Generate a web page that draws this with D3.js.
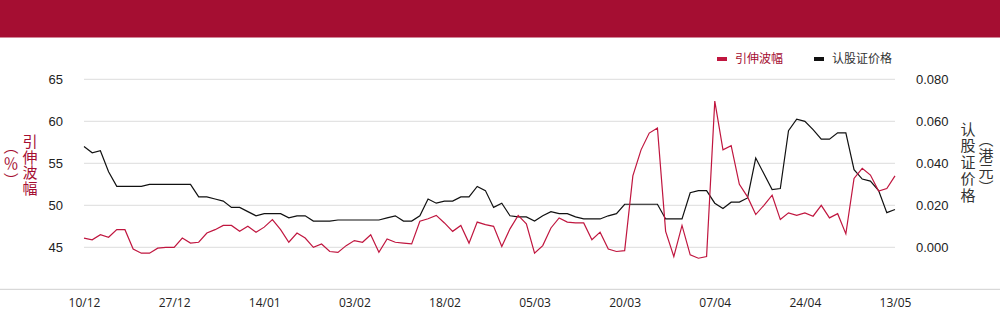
<!DOCTYPE html>
<html>
<head>
<meta charset="utf-8">
<script src="https://cdn.jsdelivr.net/npm/d3@7"></script>
<style>
  body { margin: 0; background: #fff; }
  svg { display: block; }
</style>
</head>
<body>
<svg id="chart" width="1000" height="324"></svg>
<script>
// x categories: one per trading day, only some labelled
const tickLabels = ["10/12", "27/12", "14/01", "03/02", "18/02", "05/03", "20/03", "07/04", "24/04", "13/05"]
const tickStep = 11

// 引伸波幅 (%)
const volatility = [
  46.1, 45.9, 46.5, 46.2, 47.1, 47.1, 44.8, 44.3, 44.3, 44.9,
  45.0, 45.0, 46.1, 45.5, 45.6, 46.7, 47.1, 47.6, 47.6, 46.9,
  47.5, 46.8, 47.4, 48.3, 47.1, 45.6, 46.7, 46.1, 45.0, 45.4,
  44.5, 44.4, 45.2, 45.8, 45.6, 46.5, 44.4, 46.0, 45.6, 45.5,
  45.4, 48.1, 48.4, 48.8, 47.9, 46.9, 47.6, 45.5, 48.0, 47.7,
  47.5, 45.1, 47.2, 48.8, 47.8, 44.3, 45.2, 47.3, 48.5, 48.0,
  47.9, 47.9, 45.9, 46.8, 44.8, 44.5, 44.6, 53.5, 56.6, 58.6,
  59.2, 46.9, 43.9, 47.6, 44.1, 43.7, 43.9, 62.4, 56.6, 57.1,
  52.5, 51.0, 48.9, 50.0, 51.2, 48.3, 49.1, 48.8, 49.1, 48.7,
  50.0, 48.5, 49.0, 46.6, 53.2, 54.4, 53.6, 51.7, 52.0, 53.5
]

// 认股证价格 (港元)
const warrantPrice = [
  0.048, 0.045, 0.046, 0.036, 0.029, 0.029, 0.029, 0.029, 0.030, 0.030,
  0.030, 0.030, 0.030, 0.030, 0.024, 0.024, 0.023, 0.022, 0.019, 0.019,
  0.017, 0.015, 0.016, 0.016, 0.016, 0.014, 0.015, 0.015, 0.0125, 0.0125,
  0.0125, 0.013, 0.013, 0.013, 0.013, 0.013, 0.013, 0.014, 0.015, 0.0125,
  0.0125, 0.015, 0.023, 0.021, 0.022, 0.022, 0.024, 0.024, 0.029, 0.027,
  0.019, 0.021, 0.015, 0.0145, 0.0145, 0.0125, 0.015, 0.017, 0.016, 0.016,
  0.0145, 0.0135, 0.0135, 0.0135, 0.015, 0.016, 0.0205, 0.0205, 0.0205, 0.0205,
  0.0205, 0.0135, 0.0135, 0.0135, 0.026, 0.027, 0.027, 0.021, 0.0185, 0.0215,
  0.0215, 0.0235, 0.0425, 0.035, 0.0275, 0.028, 0.0555, 0.061, 0.060, 0.056,
  0.0515, 0.0515, 0.0545, 0.0545, 0.037, 0.0325, 0.0315, 0.027, 0.0165, 0.018
]

const leftTicks = [45, 50, 55, 60, 65]
const rightTicks = [0, 0.02, 0.04, 0.06, 0.08]

const red = "#a50e32"
const lineRed = "#c0163f"

const svg = d3.select("#chart")

// header band
svg.append("rect")
  .attr("x", 0).attr("y", 0)
  .attr("width", 1000).attr("height", 37.5)
  .attr("fill", red)

const idx = d3.range(volatility.length)

const x = d3.scalePoint()
  .domain(idx)
  .range([84, 895])

const yL = d3.scaleLinear()
  .domain([40, 65])
  .range([289.3, 79.3])

const yR = d3.scaleLinear()
  .domain([-0.02, 0.08])
  .range([289.3, 79.3])

// grid lines
svg.append("g")
  .selectAll("line")
  .data(leftTicks)
  .join("line")
  .attr("x1", 84).attr("x2", 895)
  .attr("y1", d => yL(d)).attr("y2", d => yL(d))
  .attr("stroke", "#dcdcdc")
  .attr("stroke-width", 1)

// bottom base line, full width
svg.append("line")
  .attr("x1", 0).attr("x2", 1000)
  .attr("y1", yL(40)).attr("y2", yL(40))
  .attr("stroke", "#cfcfcf")
  .attr("stroke-width", 1)

// left axis labels
const gl = svg.append("g")
  .attr("transform", "translate(70,0)")
  .call(d3.axisLeft(yL).tickValues(leftTicks).tickSize(0).tickPadding(7))
gl.select(".domain").remove()
gl.selectAll("text")
  .attr("font-family", "Liberation Sans, Arial, sans-serif")
  .attr("font-size", 13)
  .attr("fill", "#222")

// right axis labels
const gr = svg.append("g")
  .attr("transform", "translate(909,0)")
  .call(d3.axisRight(yR).tickValues(rightTicks).tickSize(0).tickPadding(7).tickFormat(d3.format(".3f")))
gr.select(".domain").remove()
gr.selectAll("text")
  .attr("font-family", "Liberation Sans, Arial, sans-serif")
  .attr("font-size", 13)
  .attr("fill", "#222")

// bottom axis labels
const shown = tickLabels.map((t, i) => i * tickStep)
const gx = svg.append("g")
  .attr("transform", "translate(0," + yL(40) + ")")
  .call(d3.axisBottom(x).tickValues(shown).tickSize(0).tickPadding(9)
    .tickFormat(d => tickLabels[d / tickStep]))
gx.select(".domain").remove()
gx.selectAll("text")
  .attr("font-family", "Open Sans, sans-serif")
  .attr("font-size", 12)
  .attr("fill", "#222")

// lines
const volLine = d3.line()
  .x((d, i) => x(i))
  .y(d => yL(d))

const priceLine = d3.line()
  .x((d, i) => x(i))
  .y(d => yR(d))

svg.append("path")
  .datum(warrantPrice)
  .attr("d", priceLine)
  .attr("fill", "none")
  .attr("stroke", "#111")
  .attr("stroke-width", 1.2)

svg.append("path")
  .datum(volatility)
  .attr("d", volLine)
  .attr("fill", "none")
  .attr("stroke", lineRed)
  .attr("stroke-width", 1.2)

// axis titles (vertical writing)
const cjk = "Noto Sans CJK SC, sans-serif"
function vtext(cx, cy, str, color, spacing) {
  svg.append("text")
    .attr("x", cx).attr("y", cy)
    .attr("writing-mode", "vertical-rl")
    .attr("text-anchor", "middle")
    .attr("font-family", cjk)
    .attr("font-size", 15)
    .attr("letter-spacing", spacing)
    .attr("fill", color)
    .text(str)
}
vtext(30, 165, "引伸波幅", red, 0.5)
vtext(11, 164, "（％）", red, 2)
vtext(968, 163, "认股证价格", "#333", 1.5)
vtext(986, 164, "（港元）", "#333", 1)

// legend
const legend = [
  { name: "引伸波幅", color: lineRed, text: red, x: 717 },
  { name: "认股证价格", color: "#111", text: "#333", x: 814 }
]
const lg = svg.append("g")
  .selectAll("g")
  .data(legend)
  .join("g")
  .attr("transform", d => "translate(" + d.x + ",59)")
lg.append("rect")
  .attr("x", 0).attr("y", -2)
  .attr("width", 10).attr("height", 4)
  .attr("fill", d => d.color)
lg.append("text")
  .attr("x", 18).attr("y", 0)
  .attr("dy", "0.35em")
  .attr("font-family", cjk)
  .attr("font-size", 12)
  .attr("fill", d => d.text)
  .text(d => d.name)
</script>
</body>
</html>
